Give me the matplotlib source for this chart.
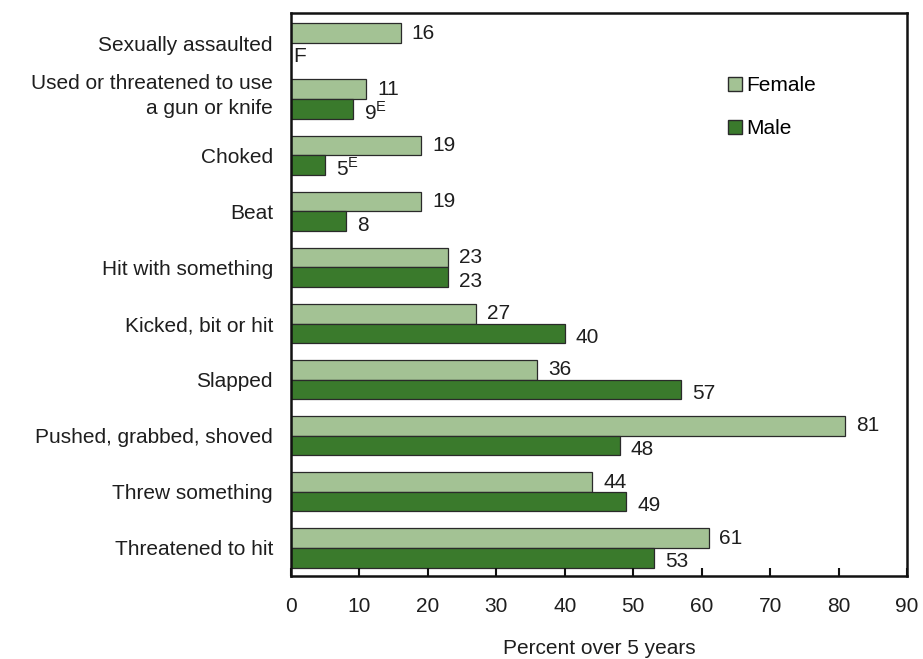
import matplotlib
matplotlib.use("Agg")
import matplotlib.pyplot as plt
from matplotlib.patches import Patch
import matplotlib.transforms as mtransforms
import numpy as np

plt.rcParams['font.family'] = ['Liberation Sans', 'DejaVu Sans']
plt.rcParams['mathtext.fontset'] = 'custom'
plt.rcParams['mathtext.rm'] = 'Liberation Sans'

categories = ["Sexually assaulted", "Used or threatened to use\na gun or knife", "Choked", "Beat",
              "Hit with something", "Kicked, bit or hit", "Slapped",
              "Pushed, grabbed, shoved", "Threw something", "Threatened to hit"]
female = [16, 11, 19, 19, 23, 27, 36, 81, 44, 61]
male = [0, 9, 5, 8, 23, 40, 57, 48, 49, 53]
female_labels = ["16", "11", "19", "19", "23", "27", "36", "81", "44", "61"]
male_labels = ["F", "9$^{\\mathrm{E}}$", "5$^{\\mathrm{E}}$", "8", "23", "40", "57", "48", "49", "53"]
xticks = [0, 10, 20, 30, 40, 50, 60, 70, 80, 90]

c_f = "#a3c294"
c_m = "#3a7a2c"
edge = "#2a2a2a"
tc = "#1e1e1e"

fig = plt.figure(figsize=(9.23, 6.59), dpi=100)
ax = fig.add_axes([291/923, 83/659, (907-291)/923, (576-13)/659])

n = len(categories)
y = np.arange(n)
h = 0.35
ax.barh(y - h/2, female, height=h, color=c_f, edgecolor=edge, linewidth=0.9)
ax.barh(y + h/2, male, height=h, color=c_m, edgecolor=edge, linewidth=0.9)

fs = 15
for i in range(n):
    ax.text(female[i] + 1.6, y[i] - h/2, female_labels[i], va='center', ha='left', fontsize=fs, color=tc)
    ax.text(male[i] + 1.6 if male[i] > 0 else 0.3, y[i] + h/2 + 0.07, male_labels[i], va='center', ha='left', fontsize=fs, color=tc)

ax.set_ylim(9.5, -0.535)
ax.set_xlim(0, 90)
ax.set_yticks(y)
ax.set_yticklabels(categories, fontsize=fs, ha='right', color=tc, linespacing=1.4)
ax.tick_params(axis='y', length=0, pad=13)
for lab in ax.get_yticklabels():
    if "\n" in lab.get_text():
        lab.set_va('center')
        lab.set_transform(lab.get_transform() + mtransforms.ScaledTranslation(0, 3/100, fig.dpi_scale_trans))
ax.set_xticks(xticks)
ax.set_xticklabels([str(t) for t in xticks], fontsize=fs, color=tc)
ax.tick_params(axis='x', direction='in', length=6, width=1.5, pad=15, color='#111111')
for s in ax.spines.values():
    s.set_linewidth(1.8)
    s.set_color('#111111')
ax.set_xlabel("Percent over 5 years", fontsize=fs, labelpad=17, color=tc)

handles = [Patch(facecolor=c_f, edgecolor=edge, label="Female"),
           Patch(facecolor=c_m, edgecolor=edge, label="Male")]
ax.legend(handles=handles, loc='upper left', bbox_to_anchor=(0.6965, 0.903), frameon=False,
          fontsize=fs, handlelength=0.65, handleheight=0.65, handletextpad=0.2, labelspacing=1.15,
          borderaxespad=0)

fig.savefig("out.png", dpi=100)
